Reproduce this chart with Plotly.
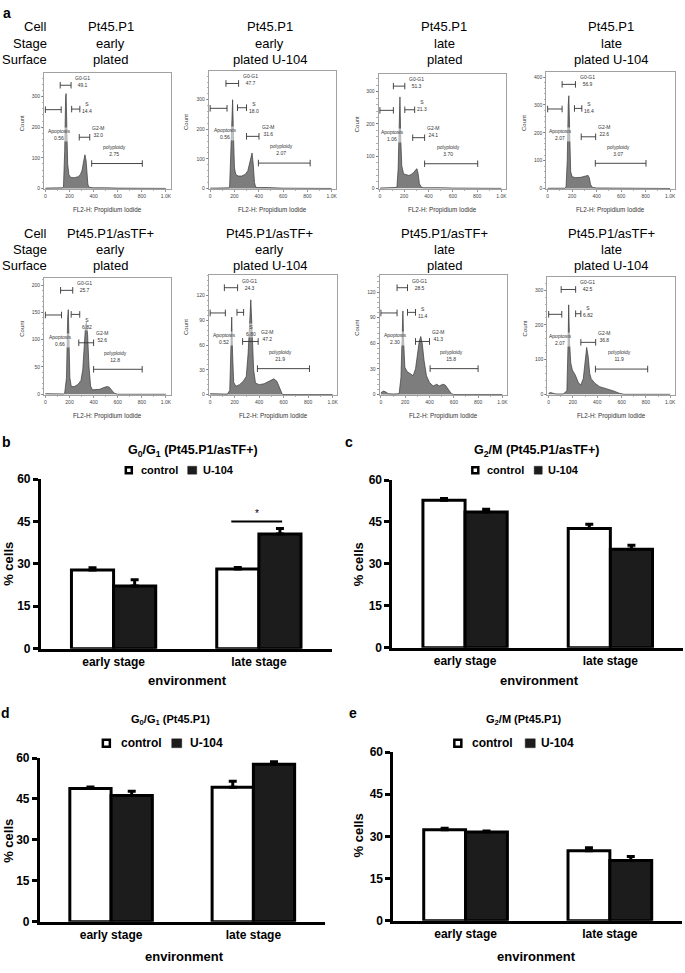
import plotly.graph_objects as go

# ======================= DATA =======================
# ---- panel a: DNA-content histograms (FL2-H value, event count) ----
h1_x = [0, 100, 140, 150, 160, 168, 172, 178, 185, 195, 210, 240, 270, 290, 305, 318, 328, 338, 345, 352, 360, 400, 500, 600, 1000]
h1_y = [1, 1, 2, 5, 120, 300, 310, 200, 80, 45, 36, 35, 38, 45, 60, 90, 110, 90, 50, 15, 4, 2, 2, 1, 0]
h2_x = [0, 100, 150, 160, 172, 182, 185, 192, 200, 210, 230, 260, 290, 310, 330, 345, 355, 365, 375, 400, 480, 550, 600, 1000]
h2_y = [1, 1, 2, 5, 150, 280, 300, 180, 70, 48, 42, 42, 48, 60, 90, 120, 80, 20, 4, 3, 3, 3, 1, 0]
h3_x = [0, 100, 130, 140, 150, 160, 165, 172, 180, 195, 215, 240, 260, 280, 295, 305, 315, 325, 340, 360, 500, 600, 1000]
h3_y = [1, 1, 1, 3, 60, 250, 284, 150, 70, 45, 42, 40, 44, 50, 58, 61, 45, 15, 4, 2, 2, 1, 0]
h4_x = [0, 100, 140, 150, 160, 168, 173, 180, 188, 200, 230, 270, 300, 320, 330, 340, 350, 365, 400, 600, 700, 1000]
h4_y = [1, 1, 1, 5, 100, 300, 333, 200, 60, 42, 39, 40, 42, 46, 47, 38, 15, 4, 2, 2, 1, 0]
h5_x = [0, 20, 40, 150, 160, 175, 185, 190, 196, 203, 215, 240, 270, 295, 310, 322, 333, 340, 350, 362, 375, 390, 420, 450, 480, 510, 530, 550, 570, 600, 1000]
h5_y = [1, 1, 0.5, 0.5, 2, 30, 140, 155, 100, 30, 14, 14, 18, 25, 45, 90, 125, 132, 110, 50, 15, 8, 8, 9, 12, 14, 13, 8, 2, 0, 0]
h6_x = [0, 20, 40, 140, 160, 170, 176, 183, 192, 210, 240, 270, 295, 310, 322, 332, 342, 355, 370, 400, 440, 480, 520, 545, 570, 590, 1000]
h6_y = [1, 1, 0.5, 0.5, 5, 60, 94, 50, 15, 10, 12, 16, 22, 50, 95, 115, 80, 30, 14, 12, 13, 16, 19, 16, 6, 0, 0]
h7_x = [0, 20, 40, 60, 100, 150, 165, 175, 181, 188, 197, 215, 240, 265, 285, 300, 315, 328, 340, 355, 375, 400, 430, 460, 480, 510, 530, 555, 580, 600, 1000]
h7_y = [2, 4, 3, 1, 0.5, 1, 20, 70, 98, 60, 32, 27, 24, 22, 30, 45, 62, 68, 60, 40, 22, 14, 10, 12, 10, 12, 11, 6, 1, 0, 0]
h8_x = [0, 15, 35, 60, 120, 150, 160, 165, 172, 182, 195, 220, 245, 265, 285, 300, 313, 325, 338, 350, 380, 420, 460, 500, 540, 580, 620, 1000]
h8_y = [3, 5, 3, 1, 1, 10, 150, 258, 150, 90, 70, 55, 33, 27, 45, 100, 135, 110, 60, 45, 32, 22, 18, 14, 9, 3, 0, 0]

cell_lines = ["Pt45.P1"] * 4 + ["Pt45.P1/asTF+"] * 4
stages = ["early", "early", "late", "late"] * 2
surfaces = ["plated", "plated U-104", "plated", "plated U-104"] * 2

# gate percentages
apo_pct = ["0.56", "0.56", "1.06", "2.07", "0.66", "0.52", "2.30", "2.07"]
g01_pct = ["49.1", "47.7", "51.3", "56.9", "25.7", "24.3", "28.5", "42.5"]
s_pct = ["14.4", "18.0", "21.3", "16.4", "6.82", "6.80", "11.4", "6.82"]
g2m_pct = ["32.0", "31.6", "24.1", "22.6", "52.6", "47.2", "41.3", "36.8"]
poly_pct = ["2.75", "2.07", "3.70", "3.07", "12.8", "21.9", "15.8", "11.9"]

# gate ranges on FL2-H
apo_gate = [[0, 131], [0, 139], [0, 111], [0, 118], [0, 134], [0, 124], [0, 133], [0, 108]]
g01_gate = [[123, 213], [130, 234], [111, 205], [118, 227], [126, 227], [116, 224], [133, 219], [103, 222]]
s_gate = [[218, 286], [225, 299], [205, 286], [219, 279], [214, 285], [219, 273], [219, 285], [222, 265]]
g2m_gate = [[281, 368], [299, 402], [270, 368], [274, 392], [277, 400], [265, 392], [285, 400], [265, 387]]
poly_gate = [[384, 804], [397, 823], [368, 805], [389, 803], [400, 803], [386, 811], [405, 800], [385, 815]]

count_ticks = [[0, 100, 200, 300], [0, 100, 200, 300], [0, 100, 200, 300], [0, 100, 200, 300, 400],
               [0, 50, 100, 150, 200], [0, 30, 60, 90, 120], [0, 30, 60, 90, 120], [0, 100, 200, 300]]
fl2_ticks = [0, 200, 400, 600, 800, 1000]
fl2_ticktext = ["0", "200", "400", "600", "800", "1.0K"]

# ---- panels b-e: % cells ----
stages_bar = ["early stage", "late stage"]
b_ctrl = [27.8, 28.2]; b_ctrl_err = [0.8, 0.5]
b_u104 = [22.2, 40.6]; b_u104_err = [2.2, 1.9]
c_ctrl = [52.8, 42.7]; c_ctrl_err = [0.6, 1.5]
c_u104 = [48.6, 35.2]; c_u104_err = [1.0, 1.5]
d_ctrl = [48.8, 49.3]; d_ctrl_err = [0.6, 2.2]
d_u104 = [46.3, 57.7]; d_u104_err = [1.5, 0.9]
e_ctrl = [32.4, 24.9]; e_ctrl_err = [0.5, 1.1]
e_u104 = [31.6, 21.4]; e_u104_err = [0.3, 1.4]
pct_ticks = [0, 15, 30, 45, 60]

# ======================= LAYOUT =======================
W, H = 685, 973
FONT = "Liberation Sans, Arial, sans-serif"


def fx(px):
    return px / W


def fy(py):
    return 1 - py / H


hist_x = [h1_x, h2_x, h3_x, h4_x, h5_x, h6_x, h7_x, h8_x]
hist_y = [h1_y, h2_y, h3_y, h4_y, h5_y, h6_y, h7_y, h8_y]

hist_dom_x = [(44, 171), (209, 337), (379, 507), (547, 676), (44, 171), (209, 338), (380, 508), (548, 676)]
hist_dom_y = [(67, 185), (65, 185), (68, 185), (66, 185), (275, 394), (272, 394), (272, 394), (274, 394)]
hist_ytop = [377, 397, 355, 418, 213, 145, 140, 338]
hist_ybot = [-3, -3, -3, -3, -2, -1, -1, -3]
s_label_y = [0.70, 0.69, 0.73, 0.70, 0.61, 0.54, 0.69, 0.71]
col_cx = [111, 270, 445, 612]

fig = go.Figure()
layout = dict(width=W, height=H, margin=dict(l=0, r=0, t=0, b=0), autosize=False,
              paper_bgcolor="white", plot_bgcolor="white", showlegend=False,
              barmode="group", bargap=0.42, bargroupgap=0,
              font=dict(family=FONT, color="black"))
ann = []
shp = []


def axnames(n):
    xa = "xaxis" if n == 1 else f"xaxis{n}"
    ya = "yaxis" if n == 1 else f"yaxis{n}"
    xr = "x" if n == 1 else f"x{n}"
    yr = "y" if n == 1 else f"y{n}"
    return xa, ya, xr, yr


GATE_C = "#333333"


def gate(xr, ydom, x0, x1, yv):
    shp.append(dict(type="line", xref=xr, yref=ydom, x0=x0, x1=x1, y0=yv, y1=yv,
                    line=dict(color=GATE_C, width=0.9)))
    for xv in (x0, x1):
        shp.append(dict(type="line", xref=xr, yref=ydom, x0=xv, x1=xv, y0=yv - 0.028, y1=yv + 0.028,
                        line=dict(color=GATE_C, width=0.9)))


def glabel(xr, ydom, xv, yv, txt):
    ann.append(dict(x=xv, y=yv, xref=xr, yref=ydom, text=txt, showarrow=False,
                    font=dict(size=5, color="#333"), bgcolor="rgba(255,255,255,0.55)",
                    borderpad=0, align="center", xanchor="center", yanchor="middle"))


for i in range(8):
    n = i + 1
    xa, ya, xr, yr = axnames(n)
    ydom = f"{yr} domain"
    x0p, x1p = hist_dom_x[i]
    t, b = hist_dom_y[i]
    layout[xa] = dict(domain=[fx(x0p), fx(x1p)], range=[-12, 1040], anchor=yr,
                      tickvals=fl2_ticks, ticktext=fl2_ticktext, ticks="outside", ticklen=2,
                      tickwidth=0.6, tickcolor="#555", tickfont=dict(size=5, color="#444"),
                      showline=True, linecolor="#8a8a8a", linewidth=0.8, mirror=True,
                      showgrid=False, zeroline=False,
                      minor=dict(ticks="outside", ticklen=1.2, tickwidth=0.5, tickcolor="#666",
                                 tickvals=[100, 300, 500, 700, 900]))
    step = count_ticks[i][1]
    layout[ya] = dict(domain=[fy(b), fy(t)], range=[hist_ybot[i], hist_ytop[i]], anchor=xr,
                      tickvals=count_ticks[i], ticks="outside", ticklen=2, tickwidth=0.6,
                      tickcolor="#555", tickfont=dict(size=5, color="#444"),
                      showline=True, linecolor="#8a8a8a", linewidth=0.8, mirror=True,
                      showgrid=False, zeroline=False,
                      minor=dict(ticks="outside", ticklen=1.2, tickwidth=0.5, tickcolor="#666",
                                 tickmode="linear", tick0=0, dtick=step / 5))
    fig.add_trace(go.Scatter(x=hist_x[i], y=hist_y[i], xaxis=xr, yaxis=yr, mode="lines",
                             fill="tozeroy", fillcolor="#7d7d7d",
                             line=dict(color="#3a3a3a", width=0.7), hoverinfo="skip"))
    # gates
    gate(xr, ydom, apo_gate[i][0], apo_gate[i][1], 0.685)
    gate(xr, ydom, g01_gate[i][0], g01_gate[i][1], 0.895)
    gate(xr, ydom, s_gate[i][0], s_gate[i][1], 0.69)
    gate(xr, ydom, g2m_gate[i][0], g2m_gate[i][1], 0.448)
    gate(xr, ydom, poly_gate[i][0], poly_gate[i][1], 0.222)
    glabel(xr, ydom, g01_gate[i][1] + 95, 0.925, f"G0-G1<br>{g01_pct[i]}")
    glabel(xr, ydom, s_gate[i][1] + 62, s_label_y[i], f"S<br>{s_pct[i]}")
    glabel(xr, ydom, apo_gate[i][1] - 15, 0.47, f"Apoptosis<br>{apo_pct[i]}")
    glabel(xr, ydom, g2m_gate[i][1] + 75, 0.50, f"G2-M<br>{g2m_pct[i]}")
    glabel(xr, ydom, (poly_gate[i][0] + poly_gate[i][1]) / 2 - 20, 0.335, f"polyploidy<br>{poly_pct[i]}")
    # axis titles
    ann.append(dict(x=fx(x0p - 22), y=fy((t + b) / 2 - 8), xref="paper", yref="paper", text="Count",
                    textangle=-90, showarrow=False, font=dict(size=6, color="#333"),
                    xanchor="center", yanchor="middle"))
    ann.append(dict(x=fx((x0p + x1p) / 2), y=fy(b + 21), xref="paper", yref="paper",
                    text="FL2-H: Propidium Iodide", showarrow=False, font=dict(size=6.3, color="#333"),
                    xanchor="center", yanchor="middle"))

# column headers
for r, ys in enumerate([(20, 37, 53), (230, 246, 262)]):
    for lab, yv in zip(["Cell", "Stage", "Surface"], ys):
        ann.append(dict(x=fx(49), y=fy(yv), xref="paper", yref="paper", text=lab, showarrow=False,
                        font=dict(size=13), xanchor="right", yanchor="middle"))
    for c in range(4):
        k = r * 4 + c
        for txt, yv in zip([cell_lines[k], stages[k], surfaces[k]], ys):
            ann.append(dict(x=fx(col_cx[c]), y=fy(yv), xref="paper", yref="paper", text=txt,
                            showarrow=False, font=dict(size=13), xanchor="center", yanchor="middle"))

# panel letters
for lab, (lx, ly) in {"a": (7, 6), "b": (7, 441), "c": (350, 441), "d": (6, 716), "e": (354, 716)}.items():
    ann.append(dict(x=fx(lx), y=fy(ly), xref="paper", yref="paper", text=f"<b>{lab}</b>",
                    showarrow=False, font=dict(size=14), xanchor="center", yanchor="middle"))

# ---- bar panels ----
bar_panels = [
    dict(n=9, ctrl=b_ctrl, ce=b_ctrl_err, u=b_u104, ue=b_u104_err, dx=(41, 332), dy=(479, 651),
         title="<b>G<sub>0</sub>/G<sub>1</sub> (Pt45.P1/asTF+)</b>", tpos=(193, 450), tsize=12.5,
         leg=dict(y=470, s1=(125, 133), t1=139, s2=(188, 197), t2=201, size=11),
         ylab=(9, 565), env=(188, 683)),
    dict(n=10, ctrl=c_ctrl, ce=c_ctrl_err, u=c_u104, ue=c_u104_err, dx=(393, 684), dy=(480, 650),
         title="<b>G<sub>2</sub>/M (Pt45.P1/asTF+)</b>", tpos=(537, 450), tsize=12.5,
         leg=dict(y=470, s1=(472, 480), t1=486, s2=(535, 543), t2=547, size=11),
         ylab=(359, 565), env=(540, 683)),
    dict(n=11, ctrl=d_ctrl, ce=d_ctrl_err, u=d_u104, ue=d_u104_err, dx=(40, 325), dy=(762, 928),
         title="<b>G<sub>0</sub>/G<sub>1</sub> (Pt45.P1)</b>", tpos=(171, 723), tsize=11,
         leg=dict(y=747, s1=(102, 111), t1=119, s2=(172, 182), t2=188, size=12),
         ylab=(9, 846), env=(185, 963)),
    dict(n=12, ctrl=e_ctrl, ce=e_ctrl_err, u=e_u104, ue=e_u104_err, dx=(394, 683), dy=(756, 927),
         title="<b>G<sub>2</sub>/M (Pt45.P1)</b>", tpos=(525, 723), tsize=11,
         leg=dict(y=747, s1=(454, 463), t1=471, s2=(526, 536), t2=540, size=12),
         ylab=(359, 840), env=(537, 963)),
]

BLACK_BAR = "#1c1c1c"
for p in bar_panels:
    xa, ya, xr, yr = axnames(p["n"])
    layout[xa] = dict(domain=[fx(p["dx"][0]), fx(p["dx"][1])], range=[-0.5, 1.5], anchor=yr,
                      type="category", categoryorder="array", categoryarray=stages_bar,
                      showline=True, linecolor="black", linewidth=3, ticks="",
                      tickfont=dict(size=12, weight="bold", family=FONT), showgrid=False, zeroline=False)
    layout[ya] = dict(domain=[fy(p["dy"][1]), fy(p["dy"][0])], range=[0, 60], anchor=xr,
                      tickvals=pct_ticks, ticks="outside", ticklen=5, tickwidth=3, tickcolor="black",
                      showline=True, linecolor="black", linewidth=3,
                      tickfont=dict(size=12, weight="bold", family=FONT), showgrid=False, zeroline=False)
    fig.add_trace(go.Bar(x=stages_bar, y=p["ctrl"], xaxis=xr, yaxis=yr, name="control",
                         marker=dict(color="white", line=dict(color="black", width=3)),
                         error_y=dict(type="data", symmetric=False, array=p["ce"], arrayminus=[0, 0],
                                      color="black", thickness=3, width=4)))
    fig.add_trace(go.Bar(x=stages_bar, y=p["u"], xaxis=xr, yaxis=yr, name="U-104",
                         marker=dict(color=BLACK_BAR, line=dict(color="black", width=3)),
                         error_y=dict(type="data", symmetric=False, array=p["ue"], arrayminus=[0, 0],
                                      color="black", thickness=3, width=4)))
    ann.append(dict(x=fx(p["tpos"][0]), y=fy(p["tpos"][1]), xref="paper", yref="paper", text=p["title"],
                    showarrow=False, font=dict(size=p["tsize"]), xanchor="center", yanchor="middle"))
    lg = p["leg"]
    half = (lg["s1"][1] - lg["s1"][0]) / 2
    shp.append(dict(type="rect", xref="paper", yref="paper", x0=fx(lg["s1"][0] + 1), x1=fx(lg["s1"][1] - 1),
                    y0=fy(lg["y"] + half - 1), y1=fy(lg["y"] - half + 1), fillcolor="white",
                    line=dict(color="black", width=2.5)))
    shp.append(dict(type="rect", xref="paper", yref="paper", x0=fx(lg["s2"][0]), x1=fx(lg["s2"][1]),
                    y0=fy(lg["y"] + half), y1=fy(lg["y"] - half), fillcolor=BLACK_BAR,
                    line=dict(color=BLACK_BAR, width=0.5)))
    ann.append(dict(x=fx(lg["t1"]), y=fy(lg["y"]), xref="paper", yref="paper", text="<b>control</b>",
                    showarrow=False, font=dict(size=lg["size"]), xanchor="left", yanchor="middle"))
    ann.append(dict(x=fx(lg["t2"]), y=fy(lg["y"]), xref="paper", yref="paper", text="<b>U-104</b>",
                    showarrow=False, font=dict(size=lg["size"]), xanchor="left", yanchor="middle"))
    ann.append(dict(x=fx(p["ylab"][0]), y=fy(p["ylab"][1]), xref="paper", yref="paper",
                    text="<b>% cells</b>", textangle=-90, showarrow=False, font=dict(size=13),
                    xanchor="center", yanchor="middle"))
    ann.append(dict(x=fx(p["env"][0]), y=fy(p["env"][1]), xref="paper", yref="paper",
                    text="<b>environment</b>", showarrow=False, font=dict(size=13),
                    xanchor="center", yanchor="middle"))

# significance marker in panel b (late stage control vs U-104)
shp.append(dict(type="line", xref="x9", yref="y9", x0=1 - 0.19, x1=1 + 0.16, y0=45, y1=45,
                line=dict(color="black", width=2)))
ann.append(dict(x=1 - 0.015, y=45, xref="x9", yref="y9", text="*", showarrow=False,
                font=dict(size=10), yanchor="bottom", yshift=0))

layout["annotations"] = ann
layout["shapes"] = shp
fig.update_layout(**layout)
fig.write_html(
    "out.html",
    config={"staticPlot": True, "displayModeBar": False},
    post_script=("document.body.style.margin='0px';document.body.style.padding='0px';"
                 "document.documentElement.style.margin='0px';"
                 "document.documentElement.style.overflow='hidden';"
                 "document.body.style.overflow='hidden';"
                 "window.scrollTo(0,0);"),
)
